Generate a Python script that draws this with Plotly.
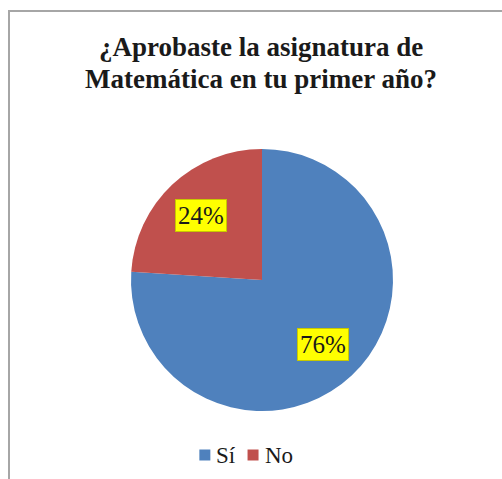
import math
import plotly.graph_objects as go

labels = ["Sí", "No"]
values = [76, 24]
colors = ["#4F81BD", "#C0504D"]
title_lines = ["¿Aprobaste la asignatura de", "Matemática en tu primer año?"]

W, H = 502, 479
CX, CY, R = 262, 280, 131  # pie centre / radius in pixels
SERIF = "Liberation Serif"
TXT = "#1a1a1a"

fig = go.Figure()
fig.add_trace(go.Pie(
    labels=labels, values=values, sort=False, direction="clockwise", rotation=0,
    marker=dict(colors=colors, line=dict(width=0)),
    textinfo="none", hoverinfo="label+percent", showlegend=False,
    domain=dict(x=[(CX - R) / W, (CX + R) / W], y=[(H - CY - R) / H, (H - CY + R) / H]),
))

annotations = []
shapes = []

# percentage labels with yellow boxes, placed at slice midpoints
total = sum(values)
cum = 0
for v in values:
    mid = (cum + v / 2) / total
    cum += v
    ang = math.radians(90 - 360 * mid)
    px = CX + 0.68 * R * math.cos(ang)
    py = CY - 0.68 * R * math.sin(ang)
    annotations.append(dict(
        x=px / W, y=(H - py) / H, xref="paper", yref="paper", showarrow=False,
        xanchor="center", yanchor="middle",
        text=f"{round(100 * v / total)}%", font=dict(family=SERIF, size=25, color=TXT),
        bgcolor="#FFFF00", bordercolor="#C8C800", borderwidth=1, borderpad=2,
    ))

# title (two lines)
for i, line in enumerate(title_lines):
    annotations.append(dict(
        x=261 / W, y=(H - (47 + 32 * i)) / H, xref="paper", yref="paper", showarrow=False,
        xanchor="center", yanchor="middle", text=f"<b>{line}</b>",
        font=dict(family=SERIF, size=27, color=TXT),
    ))

# legend: coloured squares + labels, centred under the pie
LEG_SIZE = 23
CHAR_W = {"S": 0.556, "í": 0.278, "N": 0.722, "o": 0.5}
SQ, GAP1, GAP2, LY = 11, 4, 14, 455
widths = [sum(CHAR_W.get(c, 0.5) for c in lab) * LEG_SIZE for lab in labels]
total_w = sum(SQ + GAP1 + w for w in widths) + GAP2 * (len(labels) - 1)
x = 245 - total_w / 2
for lab, col, w in zip(labels, colors, widths):
    shapes.append(dict(type="rect", xref="paper", yref="paper",
                       x0=x / W, x1=(x + SQ) / W, y0=(H - LY - SQ / 2) / H, y1=(H - LY + SQ / 2) / H,
                       fillcolor=col, line=dict(width=0)))
    annotations.append(dict(
        x=(x + SQ + GAP1) / W, y=(H - LY) / H, xref="paper", yref="paper", showarrow=False,
        xanchor="left", yanchor="middle", text=lab,
        font=dict(family=SERIF, size=LEG_SIZE, color=TXT),
    ))
    x += SQ + GAP1 + w + GAP2

# chart-area frame
shapes.append(dict(type="rect", xref="paper", yref="paper", x0=9 / W, x1=1.1, y0=-0.1, y1=(H - 11) / H,
                   line=dict(color="#A6A6A6", width=2), fillcolor="rgba(0,0,0,0)", layer="below"))

fig.update_layout(
    width=W, height=H, margin=dict(l=0, r=0, t=0, b=0),
    paper_bgcolor="white", plot_bgcolor="white",
    showlegend=False,
    annotations=annotations,
    shapes=shapes,
)

fig.write_html("out.html")
